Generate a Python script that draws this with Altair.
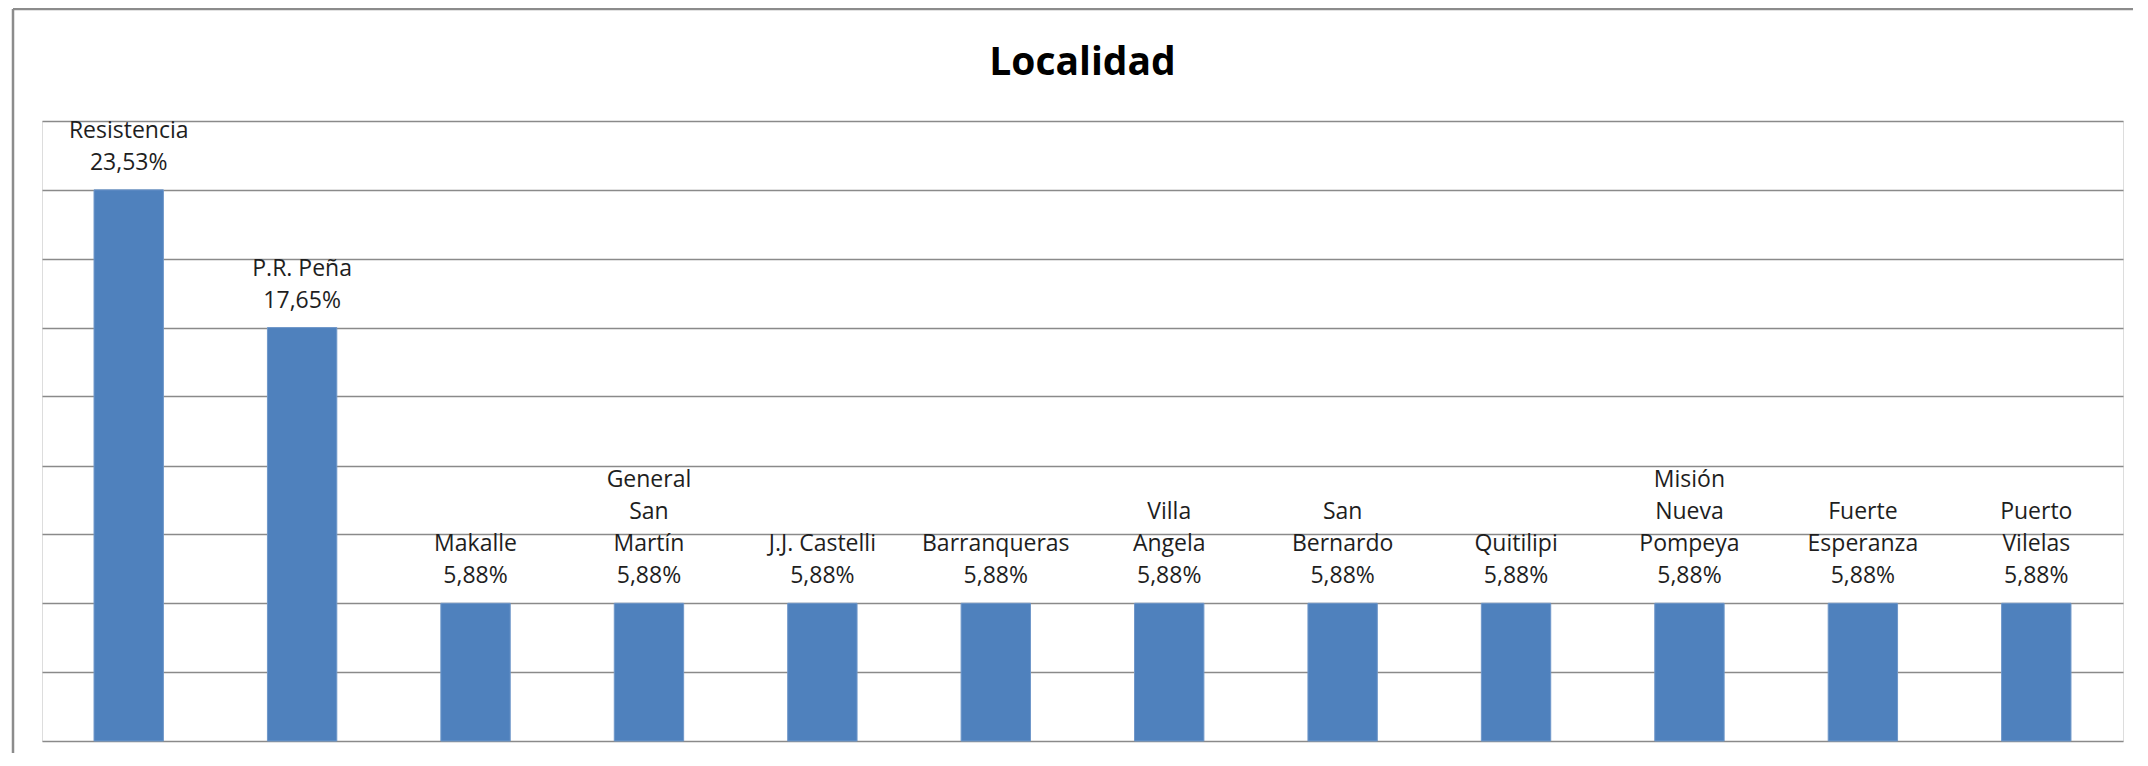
import altair as alt
import pandas as pd

# ---- data ----
names = [
    "Resistencia", "P.R. Peña", "Makalle", "General\nSan\nMartín", "J.J. Castelli",
    "Barranqueras", "Villa\nAngela", "San\nBernardo", "Quitilipi",
    "Misión\nNueva\nPompeya", "Fuerte\nEsperanza", "Puerto\nVilelas",
]
pct_values = [23.53, 17.65, 5.88, 5.88, 5.88, 5.88, 5.88, 5.88, 5.88, 5.88, 5.88, 5.88]
pct_labels = ["23,53%", "17,65%", "5,88%", "5,88%", "5,88%", "5,88%",
              "5,88%", "5,88%", "5,88%", "5,88%", "5,88%", "5,88%"]
grid_values = [0, 2.94, 5.88, 8.82, 11.76, 14.71, 17.65, 20.59, 23.53, 26.47]
title_text = "Localidad"

W, H = 2081, 620
Y_MAX = 26.47
LINE_H = 32  # px between label lines
FONT = "Open Sans"
BLUE = "#4F81BD"
GRID = "#8a8a8a"

df = pd.DataFrame({
    "order": list(range(len(names))),
    "name": names,
    "pct": pct_values,
})

# one row per label line; k counts lines from the bottom (0 = percentage line)
rows = []
for i, (n, p, v) in enumerate(zip(names, pct_labels, pct_values)):
    lines = n.split("\n") + [p]
    for j, ln in enumerate(lines):
        rows.append({"order": i, "pct": v, "line": ln, "k": len(lines) - 1 - j})
lab = pd.DataFrame(rows)

x_enc = alt.X("order:O", title=None,
              scale=alt.Scale(paddingInner=0.6, paddingOuter=0.3),
              axis=alt.Axis(labels=False, ticks=False, domain=False, grid=False))
y_scale = alt.Scale(domain=[0, Y_MAX], nice=False, zero=True)
y_enc = alt.Y("pct:Q", title=None, scale=y_scale,
              axis=alt.Axis(values=grid_values, labels=False, ticks=False, domain=False,
                            grid=True, gridColor=GRID, gridWidth=1.6, gridOpacity=1))

bars = alt.Chart(df).mark_bar(color=BLUE, stroke="#6f97c9", strokeWidth=1).encode(
    x=x_enc, y=y_enc
)

labels = alt.Chart(lab).transform_calculate(
    ypos=f"datum.pct + datum.k * {LINE_H * Y_MAX / H}"
).mark_text(
    font=FONT, fontSize=23, color="#1e1e1e", baseline="alphabetic", align="center", dy=-20
).encode(
    x=alt.X("order:O"), y=alt.Y("ypos:Q", scale=y_scale), text="line:N"
)

one = pd.DataFrame({"t": [title_text]})
title = alt.Chart(one).mark_text(
    font=FONT, fontSize=39, fontWeight="bold", color="#000000",
    align="center", baseline="alphabetic"
).encode(x=alt.value(W / 2), y=alt.value(-46), text="t:N")

border_left = alt.Chart(one).mark_rule(color="#8c8c8c", strokeWidth=2.5).encode(
    x=alt.value(-29), y=alt.value(-112), y2=alt.value(H + 40))
border_top = alt.Chart(one).mark_rule(color="#8c8c8c", strokeWidth=2.5).encode(
    x=alt.value(-29), x2=alt.value(W + 40), y=alt.value(-112))

chart = alt.layer(bars, labels, title, border_left, border_top).properties(
    width=W, height=H,
    padding={"left": 34, "top": 113, "right": 10, "bottom": 12},
    autosize=alt.AutoSizeParams(type="none"),
).configure_view(stroke=None).configure(background="white")

chart.save("out.html", embed_options={"renderer": "svg", "actions": False})
